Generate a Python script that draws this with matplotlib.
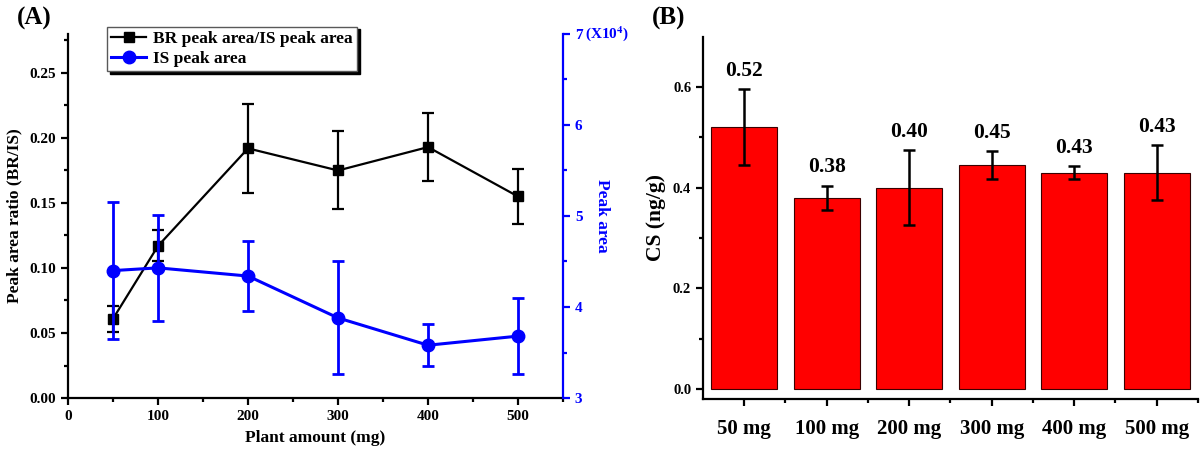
import matplotlib
matplotlib.use("Agg")
import matplotlib.pyplot as plt
from matplotlib.ticker import MultipleLocator, FixedLocator

plt.rcParams['font.family'] = ['Liberation Serif', 'DejaVu Serif']
plt.rcParams['font.weight'] = 'bold'
plt.rcParams['axes.labelweight'] = 'bold'

# ---- Panel A data ----
plant_mg = [50, 100, 200, 300, 400, 500]
br_ratio = [0.061, 0.117, 0.192, 0.175, 0.193, 0.155]
br_err = [0.010, 0.012, 0.034, 0.030, 0.026, 0.021]
is_area = [4.40, 4.43, 4.34, 3.88, 3.58, 3.68]  # x10^4
is_err = [0.75, 0.58, 0.38, 0.62, 0.23, 0.42]

# ---- Panel B data ----
bar_labels = ['50 mg', '100 mg', '200 mg', '300 mg', '400 mg', '500 mg']
cs_values = [0.52, 0.38, 0.40, 0.445, 0.43, 0.43]
cs_err = [0.076, 0.024, 0.075, 0.028, 0.012, 0.055]
cs_text = ['0.52', '0.38', '0.40', '0.45', '0.43', '0.43']

fig = plt.figure(figsize=(12, 4.53), dpi=100)

# ================= Panel A =================
axA = fig.add_axes([0.0567, 0.1214, 0.4125, 0.8036])
axA2 = axA.twinx()

blue = '#0000FF'
lb, = axA.plot(plant_mg, br_ratio, color='black', lw=1.6, marker='s', ms=7.5,
               label='BR peak area/IS peak area', zorder=3)
axA.errorbar(plant_mg, br_ratio, yerr=br_err, fmt='none', ecolor='black',
             elinewidth=1.6, capsize=4, capthick=1.6, zorder=3)
li, = axA2.plot(plant_mg, is_area, color=blue, lw=2.2, marker='o', ms=9,
                label='IS peak area', zorder=3)
axA2.errorbar(plant_mg, is_area, yerr=is_err, fmt='none', ecolor=blue,
              elinewidth=2, capsize=4, capthick=2, zorder=3)

axA.set_xlim(0, 550)
axA.set_ylim(0, 0.28)
axA2.set_ylim(3, 7)
axA.xaxis.set_major_locator(MultipleLocator(100))
axA.xaxis.set_minor_locator(MultipleLocator(50))
axA.yaxis.set_major_locator(FixedLocator([0, 0.05, 0.10, 0.15, 0.20, 0.25]))
axA.yaxis.set_minor_locator(FixedLocator([0.025, 0.075, 0.125, 0.175, 0.225, 0.275]))
axA.set_yticklabels(['0.00', '0.05', '0.10', '0.15', '0.20', '0.25'])
axA2.yaxis.set_major_locator(MultipleLocator(1))
axA2.yaxis.set_minor_locator(MultipleLocator(0.5))

for ax in (axA, axA2):
    ax.spines['top'].set_visible(False)
    for s in ax.spines.values():
        s.set_linewidth(1.6)
axA.spines['right'].set_visible(False)
axA2.spines['left'].set_visible(False)
axA2.spines['bottom'].set_visible(False)
axA2.spines['right'].set_color(blue)

axA.tick_params(axis='both', which='both', direction='out', width=1.6, labelsize=11)
axA.tick_params(which='major', length=5)
axA.tick_params(which='minor', length=3)
axA2.tick_params(axis='y', which='both', direction='out', width=1.6, colors=blue, labelsize=11)
axA2.tick_params(which='major', length=5)
axA2.tick_params(which='minor', length=3)

axA.set_xlabel('Plant amount (mg)', fontsize=12.5, labelpad=5)
axA.set_ylabel('Peak area ratio (BR/IS)', fontsize=12.5, labelpad=5)
axA2.set_ylabel('Peak area', fontsize=12.5, color=blue, rotation=270, labelpad=20)
axA2.text(1.045, 1.0, r'(X10$^{\mathbf{4}}$)', transform=axA2.transAxes, color=blue,
          fontsize=11, fontweight='bold', va='center', ha='left',
          math_fontfamily='stix')

leg = axA.legend(handles=[lb, li], loc='upper left', bbox_to_anchor=(0.079, 1.02),
                 borderaxespad=0, fontsize=12.5, frameon=True, fancybox=False,
                 shadow={'color': 'black', 'alpha': 1.0}, edgecolor='0.35',
                 handlelength=2.0, handletextpad=0.4, borderpad=0.25, labelspacing=0.2)
leg.get_frame().set_linewidth(1.0)
leg.set_zorder(5)

fig.text(0.014, 0.985, '(A)', fontsize=18, fontweight='bold', va='top', ha='left')

# ================= Panel B =================
axB = fig.add_axes([0.5858, 0.119, 0.4125, 0.8002])
xpos = list(range(len(bar_labels)))
axB.bar(xpos, cs_values, width=0.8, color='#FF0000', edgecolor='#3a0000', linewidth=0.8,
        zorder=2)
axB.errorbar(xpos, cs_values, yerr=cs_err, fmt='none', ecolor='black', elinewidth=1.8,
             capsize=4, capthick=1.8, zorder=3)
for x, v, e, t in zip(xpos, cs_values, cs_err, cs_text):
    axB.annotate(t, (x, v + e), xytext=(0, 6), textcoords='offset points',
                 ha='center', va='bottom', fontsize=15.5, fontweight='bold')

axB.set_xlim(-0.5, 5.5)
axB.set_ylim(-0.02, 0.70)
axB.set_xticks(xpos)
axB.set_xticklabels(bar_labels, fontsize=15)
axB.xaxis.set_minor_locator(FixedLocator([0.5, 1.5, 2.5, 3.5, 4.5, 5.5]))
axB.yaxis.set_major_locator(FixedLocator([0.0, 0.2, 0.4, 0.6]))
axB.yaxis.set_minor_locator(FixedLocator([0.1, 0.3, 0.5]))
axB.set_yticklabels(['0.0', '0.2', '0.4', '0.6'])
axB.spines['top'].set_visible(False)
axB.spines['right'].set_visible(False)
for s in ('left', 'bottom'):
    axB.spines[s].set_linewidth(1.6)
axB.tick_params(axis='both', which='both', direction='out', width=1.6)
axB.tick_params(which='major', length=5)
axB.tick_params(which='minor', length=3)
axB.tick_params(axis='y', labelsize=10.5)
axB.tick_params(axis='x', pad=9)
axB.set_ylabel('CS (ng/g)', fontsize=15.5, labelpad=5)

fig.text(0.543, 0.985, '(B)', fontsize=18, fontweight='bold', va='top', ha='left')

fig.savefig('out.png', dpi=100)
